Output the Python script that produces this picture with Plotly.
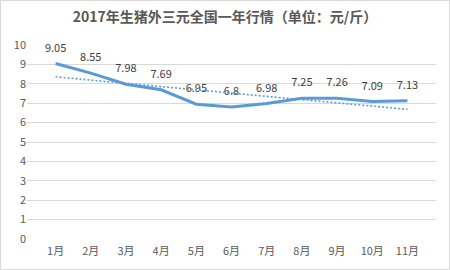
import numpy as np
import plotly.graph_objects as go

months = ["1月", "2月", "3月", "4月", "5月", "6月", "7月", "8月", "9月", "10月", "11月"]
prices = [9.05, 8.55, 7.98, 7.69, 6.95, 6.8, 6.98, 7.25, 7.26, 7.09, 7.13]
y_ticks = [0, 1, 2, 3, 4, 5, 6, 7, 8, 9, 10]
title = "2017年生猪外三元全国一年行情（单位：元/斤）"

# linear trendline (least squares on the data, like Excel's trendline)
xi = np.arange(1, len(prices) + 1)
slope, intercept = np.polyfit(xi, prices, 1)
trend = slope * xi + intercept

W, H = 450, 270
ml, mr, mt, mb = 27, 14, 45, 31
pw, ph = W - ml - mr, H - mt - mb

font_family = "Noto Sans CJK SC, Noto Sans, sans-serif"
blue = "#5B9BD5"

fig = go.Figure()
fig.add_trace(go.Scatter(
    x=months, y=prices, mode="lines+markers+text",
    line=dict(color=blue, width=3),
    marker=dict(size=13, opacity=0),
    text=[f"{v:g}" for v in prices], textposition="top center",
    textfont=dict(size=11, color="#404040", family=font_family),
    hoverinfo="skip", showlegend=False, cliponaxis=False,
))
fig.add_trace(go.Scatter(
    x=months, y=trend, mode="lines",
    line=dict(color=blue, width=1.6, dash="2px,2px"),
    hoverinfo="skip", showlegend=False,
))

fig.update_layout(
    width=W, height=H,
    margin=dict(l=ml, r=mr, t=mt, b=mb),
    paper_bgcolor="white", plot_bgcolor="white",
    font=dict(family=font_family, color="#595959", size=11),
    title=dict(text="<b>" + title + "</b>", x=0.5, xanchor="center", y=1 - 17 / H, yanchor="middle",
               font=dict(size=14, color="#595959", family=font_family)),
    xaxis=dict(type="category", showgrid=False, showline=False, zeroline=False,
               ticks="", ticklabelstandoff=4, tickfont=dict(size=11, color="#595959")),
    yaxis=dict(range=[0, 10], tickvals=y_ticks, showgrid=True, gridcolor="#D9D9D9", gridwidth=1,
               zeroline=False, showline=False, ticks="", tickfont=dict(size=11, color="#595959")),
    shapes=[dict(type="rect", xref="paper", yref="paper",
                 x0=-(ml - 0.5) / pw, x1=1 + (mr - 0.5) / pw,
                 y0=-(mb - 0.5) / ph, y1=1 + (mt - 0.5) / ph,
                 line=dict(color="#D9D9D9", width=1), fillcolor="rgba(0,0,0,0)", layer="below")],
)

fig.write_html("out.html")
